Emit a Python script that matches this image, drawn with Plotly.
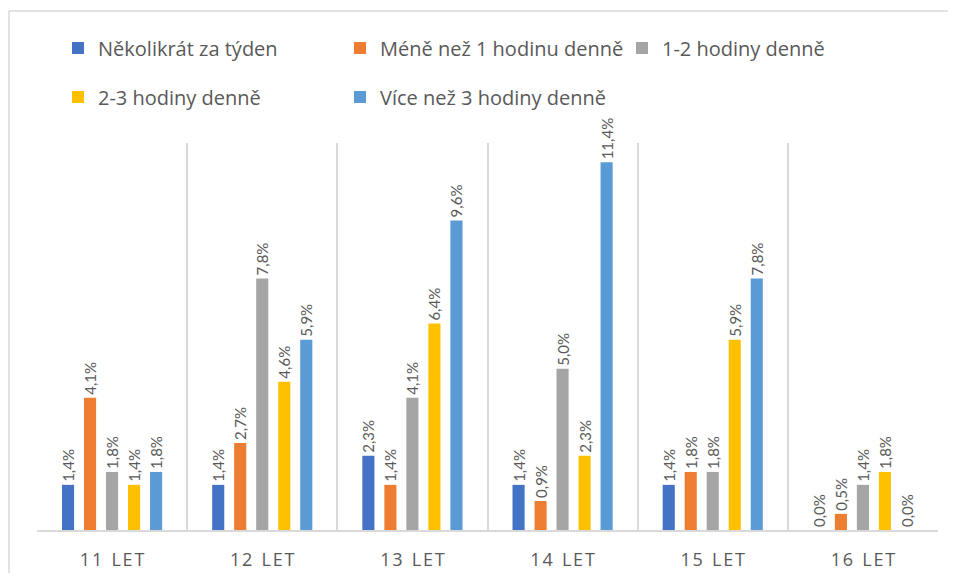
import plotly.graph_objects as go

categories = ["11 LET", "12 LET", "13 LET", "14 LET", "15 LET", "16 LET"]
series_names = ["Několikrát za týden", "Méně než 1 hodinu denně", "1-2 hodiny denně",
                "2-3 hodiny denně", "Více než 3 hodiny denně"]
s_nekolikrat = [1.4, 1.4, 2.3, 1.4, 1.4, 0.0]
s_mene1 = [4.1, 2.7, 1.4, 0.9, 1.8, 0.5]
s_1_2 = [1.8, 7.8, 4.1, 5.0, 1.8, 1.4]
s_2_3 = [1.4, 4.6, 6.4, 2.3, 5.9, 1.8]
s_vice3 = [1.8, 5.9, 9.6, 11.4, 7.8, 0.0]

colors = ["#4472C4", "#ED7D31", "#A5A5A5", "#FFC000", "#5B9BD5"]
values = [s_nekolikrat, s_mene1, s_1_2, s_2_3, s_vice3]
legends = ["legend", "legend", "legend", "legend2", "legend2"]

LABEL_FONT = "Lato, Open Sans, sans-serif"
TEXT_FONT = "Open Sans, Noto Sans, sans-serif"
GREY = "#595959"

def spaced(label):
    num, word = label.split(" ")
    return "\u200a".join(num) + " \u2005" + "\u200a".join(word)

tick_text = [spaced(c) for c in categories]

fig = go.Figure()
for name, vals, col, lg in zip(series_names, values, colors, legends):
    fig.add_trace(go.Bar(
        name=name, x=categories, y=vals,
        marker=dict(color=col, line=dict(width=0)),
        texttemplate="%{y:.1f}%", textposition="outside", textangle=-90,
        textfont=dict(family=LABEL_FONT, size=15, color=GREY),
        cliponaxis=False, constraintext="none",
        legend=lg,
    ))

# page has an 8px body margin; work in viewport pixels and convert
OFF = 8
W, H = 940, 565
L, R, T, B = 37 - OFF, (OFF + W) - 938, 143 - OFF, (OFF + H) - 530
pw, ph = W - L - R, H - T - B

def px_x(x):
    return (x - OFF - L) / pw

def px_y(y):
    return (H - B - (y - OFF)) / ph

legend_common = dict(orientation="h", font=dict(family=TEXT_FONT, size=20, color=GREY),
                     bgcolor="rgba(0,0,0,0)", entrywidth=237, entrywidthmode="pixels",
                     xanchor="left", yanchor="middle", itemclick=False)

border = dict(color="#D9D9D9", width=1.5)

fig.update_layout(
    width=W, height=H,
    margin=dict(l=L, r=R, t=T, b=B),
    paper_bgcolor="white", plot_bgcolor="white",
    separators=", ",
    barmode="group", bargap=0.267, bargroupgap=0.45,
    showlegend=True,
    legend=dict(x=px_x(58), y=px_y(48), **legend_common),
    legend2=dict(x=px_x(58), y=px_y(97), **legend_common),
    xaxis=dict(
        tickmode="array", tickvals=categories, ticktext=tick_text,
        tickson="boundaries", showgrid=True, gridcolor="#D9D9D9", gridwidth=1.5,
        showline=True, linecolor="#D9D9D9", linewidth=1.5,
        ticks="", ticklabelstandoff=13, automargin=False,
        tickfont=dict(family=TEXT_FONT, size=18, color=GREY),
        fixedrange=True,
    ),
    yaxis=dict(range=[0, 12], visible=False, showgrid=False, zeroline=False,
               fixedrange=True, automargin=False),
    shapes=[
        dict(type="line", xref="paper", yref="paper",
             x0=px_x(9), x1=px_x(960), y0=px_y(11), y1=px_y(11), line=border, layer="above"),
        dict(type="line", xref="paper", yref="paper",
             x0=px_x(9), x1=px_x(9), y0=px_y(11), y1=px_y(590), line=border, layer="above"),
    ],
)

fig.write_html("out.html")
